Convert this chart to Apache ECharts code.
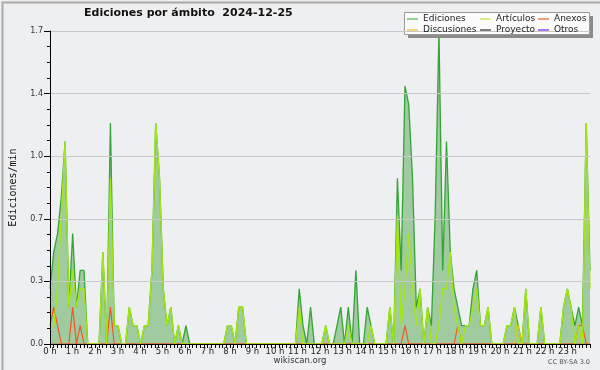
<!DOCTYPE html>
<html><head><meta charset="utf-8">
<script src="https://cdn.jsdelivr.net/npm/echarts@6/dist/echarts.min.js"></script>
<style>html,body{margin:0;padding:0;background:#eeeff1}#c{width:600px;height:370px}</style>
</head><body><div id="c"></div>
<script>
// Hour tick labels (x axis)
const hourLabels = ['0 h','1 h','2 h','3 h','4 h','5 h','6 h','7 h','8 h','9 h','10 h','11 h',
  '12 h','13 h','14 h','15 h','16 h','17 h','18 h','19 h','20 h','21 h','22 h','23 h'];
// Y tick values
const yTicks = [0, 0.34, 0.68, 1.02, 1.36, 1.7];

// 10‑minute bins, Ediciones/min (one row per hour)
const ediciones = [
  0.3,0.5,0.6,0.8,1.1,0.2,   // 0 h
  0.6,0.2,0.4,0.4,0,0,       // 1 h
  0,0,0.5,0,1.2,0.1,         // 2 h
  0.1,0,0,0.2,0.1,0.1,       // 3 h
  0,0.1,0.1,0.4,1.2,0.9,     // 4 h
  0.3,0.1,0.2,0,0.1,0,       // 5 h
  0.1,0,0,0,0,0,             // 6 h
  0,0,0,0,0,0.1,             // 7 h
  0.1,0,0.2,0.2,0,0,         // 8 h
  0,0,0,0,0,0,               // 9 h
  0,0,0,0,0,0,               // 10 h
  0.3,0.1,0,0.2,0,0,         // 11 h
  0,0.1,0,0,0.1,0.2,         // 12 h
  0,0.2,0,0.4,0,0,           // 13 h
  0.2,0.1,0,0,0,0,           // 14 h
  0.2,0,0.9,0.4,1.4,1.3,     // 15 h
  0.9,0.2,0.3,0,0.2,0.1,     // 16 h
  0.7,1.7,0.4,1.1,0.5,0.3,   // 17 h
  0.2,0.1,0.1,0.1,0.3,0.4,   // 18 h
  0.1,0.1,0.2,0,0,0,         // 19 h
  0,0.1,0.1,0.2,0.1,0,       // 20 h
  0.3,0,0,0,0.2,0,           // 21 h
  0,0,0,0,0.2,0.3,           // 22 h
  0.2,0.1,0.2,0.1,1.2,0.4    // 23 h
];
const articulos = [
  0.1,0.1,0.3,0.7,1.1,0.2,
  0.4,0.2,0.3,0.3,0,0,
  0,0,0.5,0,0.9,0.1,
  0.1,0,0,0.2,0.1,0.1,
  0,0.1,0.1,0.4,1.2,0.9,
  0.3,0.1,0.2,0,0.1,0,
  0,0,0,0,0,0,
  0,0,0,0,0,0.1,
  0.1,0,0.2,0.2,0,0,
  0,0,0,0,0,0,
  0,0,0,0,0,0,
  0.2,0,0,0,0,0,
  0,0.1,0,0,0,0,
  0,0.1,0,0,0,0,
  0,0.1,0,0,0,0,
  0.2,0,0.7,0.1,0.3,0.6,
  0.3,0.1,0.3,0,0.2,0,
  0,0.1,0.3,0.3,0.5,0.2,
  0.1,0,0.1,0.1,0.2,0.3,
  0.1,0.1,0.2,0,0,0,
  0,0.1,0.1,0.2,0,0,
  0.3,0,0,0,0.2,0,
  0,0,0,0,0.2,0.3,
  0.2,0,0.1,0,1.2,0.3
];
const anexos = [
  0.1,0.2,0.1,0,0,0,
  0.2,0,0.1,0,0,0,
  0,0,0,0,0.2,0,
  0,0,0,0,0,0,
  0,0,0,0,0,0,
  0,0,0,0,0,0,
  0,0,0,0,0,0,
  0,0,0,0,0,0,
  0,0,0,0,0,0,
  0,0,0,0,0,0,
  0,0,0,0,0,0,
  0,0,0,0,0,0,
  0,0,0,0,0,0,
  0,0,0,0,0,0,
  0,0,0,0,0,0,
  0,0,0,0,0.1,0,
  0,0,0,0,0,0,
  0,0,0,0,0,0,
  0.1,0,0,0,0,0,
  0,0,0,0,0,0,
  0,0,0,0,0,0,
  0,0,0,0,0,0,
  0,0,0,0,0,0,
  0,0,0.1,0.1,0,0
];
const discusiones = [
  0,0,0,0,0,0, 0,0,0,0,0,0, 0,0,0,0,0,0, 0,0,0,0,0,0,
  0,0,0,0,0,0, 0,0,0,0,0,0, 0,0,0,0,0,0, 0,0,0,0,0,0,
  0,0,0,0,0,0, 0,0,0,0,0,0, 0,0,0,0,0,0, 0,0,0,0,0,0,
  0,0,0,0,0,0, 0,0,0,0,0,0, 0,0,0,0,0,0, 0,0,0,0,0,0,
  0,0,0,0,0,0, 0,0,0,0,0,0, 0,0,0,0,0,0, 0,0,0,0,0,0,
  0,0,0,0,0.1,0, 0,0,0,0,0,0, 0,0,0,0,0,0, 0,0,0,0,0,0
];
const proyecto = [
  0,0,0,0,0,0, 0,0,0,0,0,0, 0,0,0,0,0,0, 0,0,0,0,0,0,
  0,0,0,0,0,0, 0,0,0,0,0,0, 0,0,0,0,0,0, 0,0,0,0,0,0,
  0,0,0,0,0,0, 0,0,0,0,0,0, 0,0,0,0,0,0, 0,0,0,0,0,0,
  0,0,0,0,0,0, 0,0,0,0,0,0, 0,0,0,0,0,0, 0,0,0,0,0,0,
  0,0,0,0,0,0, 0,0,0,0,0,0, 0,0,0,0,0,0, 0,0,0,0,0,0,
  0,0,0,0,0,0, 0,0,0,0,0,0, 0,0,0,0,0,0, 0,0,0,0,0,0
];
const otros = proyecto.slice();

// category labels for the 144 ten‑minute bins
const slots = [];
hourLabels.forEach(function (h, hi) {
  ['00','10','20','30','40','50'].forEach(function (m) { slots.push(String(hi).padStart(2,'0') + ':' + m); });
});

const FONT = 'DejaVu Sans';
const chart = echarts.init(document.getElementById('c'), null, {renderer: 'canvas'});

function lineSeries(name, data, color, width, z, area) {
  const s = {
    name: name, type: 'line', data: data, xAxisIndex: 0, yAxisIndex: 0,
    symbol: 'none', z: z, silent: true,
    lineStyle: {color: color, width: width},
    itemStyle: {color: color}
  };
  if (area) s.areaStyle = {color: area, opacity: 1};
  return s;
}

const legendBase = {
  orient: 'vertical', top: 14, icon: 'rect', itemWidth: 11, itemHeight: 1.5,
  itemGap: 1, padding: 0, selectedMode: false, z: 10,
  textStyle: {fontFamily: FONT, fontSize: 9, color: '#222', lineHeight: 10, padding: [0,0,0,0]}
};

chart.setOption({
  animation: false,
  backgroundColor: '#eeeff1',
  title: {
    text: 'Ediciones por ámbito  2024-12-25', left: 84, top: 8, padding: 0,
    textStyle: {fontFamily: FONT, fontSize: 11, fontWeight: 'bold', color: '#111'}
  },
  legend: [
    Object.assign({}, legendBase, {left: 407, data: [
      {name: 'Ediciones', itemStyle: {color: '#72c472'}},
      {name: 'Discusiones', itemStyle: {color: '#f0c850'}}]}),
    Object.assign({}, legendBase, {left: 480, data: [
      {name: 'Artículos', itemStyle: {color: '#c8ee60'}},
      {name: 'Proyecto', itemStyle: {color: '#555555'}}]}),
    Object.assign({}, legendBase, {left: 538, data: [
      {name: 'Anexos', itemStyle: {color: '#ee8050'}},
      {name: 'Otros', itemStyle: {color: '#9a48ee'}}]})
  ],
  grid: {left: 46, right: 10, top: 31, bottom: 26, containLabel: false},
  xAxis: [
    {type: 'category', data: slots, boundaryGap: false, show: false},
    {
      type: 'value', min: 0, max: 24, interval: 1, position: 'bottom', z: 10,
      axisLine: {show: true, onZero: false, lineStyle: {color: '#000', width: 1}},
      axisTick: {show: true, length: 4, lineStyle: {color: '#000'}},
      minorTick: {show: true, splitNumber: 6, length: 4, lineStyle: {color: '#000'}},
      splitLine: {show: false},
      axisLabel: {
        margin: 3, fontFamily: FONT, fontSize: 8.5, color: '#222',
        formatter: function (v) { return hourLabels[v] || ''; }
      }
    }
  ],
  yAxis: {
    type: 'value', min: yTicks[0], max: yTicks[yTicks.length - 1], interval: 0.34, z: 10,
    name: 'Ediciones/min', nameLocation: 'middle', nameGap: 32, nameRotate: 90,
    nameTextStyle: {fontFamily: 'DejaVu Sans Mono', fontSize: 10, color: '#111'},
    axisLine: {show: true, lineStyle: {color: '#000', width: 1}},
    axisTick: {show: true, length: 6, lineStyle: {color: '#000'}},
    minorTick: {show: true, splitNumber: 4, length: 3, lineStyle: {color: '#000'}},
    splitLine: {show: true, lineStyle: {color: '#c8c8c8', width: 1}},
    axisLabel: {
      margin: 7, fontFamily: FONT, fontSize: 8, color: '#333',
      formatter: function (v) { return v.toFixed(1); }
    }
  },
  series: [
    lineSeries('Ediciones', ediciones, '#35a335', 1.3, 2, 'rgba(104,178,104,0.58)'),
    lineSeries('Proyecto', proyecto, '#555555', 1, 3),
    lineSeries('Otros', otros, '#9a48ee', 1, 3),
    lineSeries('Discusiones', discusiones, '#e8c020', 1.2, 4),
    lineSeries('Anexos', anexos, '#ee5a22', 1.2, 4),
    lineSeries('Artículos', articulos, '#a4e612', 1.4, 5)
  ],
  graphic: {elements: [
    {type: 'rect', left: 0, top: 0, z: 0, silent: true,
      shape: {x: 0, y: 0, width: 600, height: 370},
      style: {fill: 'none', stroke: '#aaaaaa', lineWidth: 2}},
    {type: 'rect', z: 6, silent: true, shape: {x: 408, y: 16, width: 185, height: 22},
      style: {fill: '#8a8a8a'}},
    {type: 'rect', z: 7, silent: true, shape: {x: 404.5, y: 12.5, width: 185, height: 22},
      style: {fill: '#fbfbfb', stroke: '#9a9a9a', lineWidth: 1}},
    {type: 'text', z: 7, silent: true, x: 300, y: 361,
      style: {text: 'wikiscan.org', fontFamily: FONT, fontSize: 8.5, fill: '#333',
        align: 'center', verticalAlign: 'middle'}},
    {type: 'text', z: 7, silent: true, x: 590, y: 362,
      style: {text: 'CC BY-SA 3.0', fontFamily: FONT, fontSize: 6.5, fill: '#555',
        align: 'right', verticalAlign: 'middle'}}
  ]}
});
</script>
</body></html>
